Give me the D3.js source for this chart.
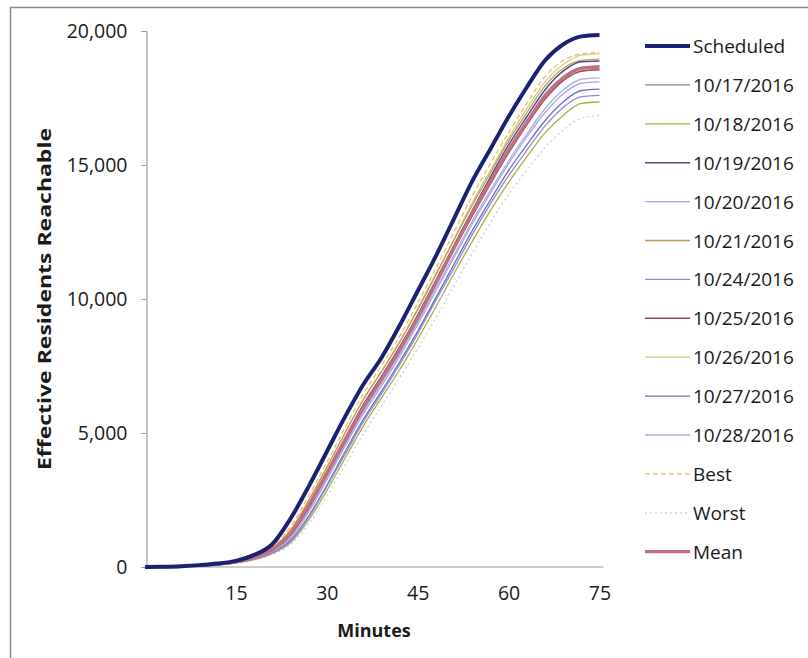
<!DOCTYPE html>
<html><head><meta charset="utf-8">
<script src="https://cdn.jsdelivr.net/npm/d3@7"></script>
<style>body{margin:0;background:#fff}svg{display:block}</style>
</head><body><svg id="c" width="808" height="658"></svg>
<script>
const minutes = [0,3,6,9,12,15,18,21,24,27,30,33,36,39,42,45,48,51,54,57,60,63,66,69,72,75];
const xTicks = [15,30,45,60,75];
const yTicks = [0,5000,10000,15000,20000];
const seriesNames = ["Scheduled","10/17/2016","10/18/2016","10/19/2016","10/20/2016","10/21/2016","10/24/2016","10/25/2016","10/26/2016","10/27/2016","10/28/2016","Best","Worst","Mean"];
const scheduled = [0,10,30,70,130,230,450,850,1800,3000,4300,5600,6800,7800,9000,10300,11600,13000,14400,15600,16800,17900,18900,19500,19800,19850];
const d1017 = [0,10,25,55,100,185,350,640,1200,2250,3500,4750,6000,7050,8150,9350,10650,11950,13250,14450,15600,16650,17650,18300,18650,18700];
const d1018 = [0,5,20,45,85,155,280,500,900,1750,2850,4050,5250,6300,7350,8500,9700,10950,12150,13300,14350,15300,16200,16850,17300,17350];
const d1019 = [0,10,25,55,105,190,360,660,1250,2300,3550,4800,6050,7100,8200,9400,10700,12000,13300,14550,15750,16800,17800,18500,18850,18880];
const d1020 = [0,10,20,50,95,170,320,580,1080,2050,3250,4500,5700,6750,7850,9050,10300,11550,12800,13950,15050,16050,16950,17650,18050,18100];
const d1021 = [0,10,25,60,110,200,390,710,1380,2480,3720,5000,6230,7280,8380,9600,10900,12200,13500,14700,15900,16950,17950,18600,18900,18950];
const d1024 = [0,10,20,45,90,160,290,530,950,1850,3000,4200,5400,6450,7550,8700,9950,11150,12400,13550,14600,15550,16450,17150,17550,17600];
const d1025 = [0,10,25,55,100,180,340,620,1180,2200,3420,4650,5880,6950,8050,9250,10550,11850,13100,14300,15450,16500,17450,18150,18500,18550];
const d1026 = [0,10,25,60,110,200,380,700,1350,2450,3700,5000,6250,7300,8400,9650,10950,12250,13600,14800,16000,17100,18100,18750,19100,19150];
const d1027 = [0,10,20,45,90,165,300,550,1000,1900,3050,4300,5500,6550,7650,8800,10050,11300,12550,13700,14800,15750,16650,17350,17780,17830];
const d1028 = [0,10,20,50,95,175,330,600,1100,2100,3300,4550,5780,6850,7950,9150,10400,11650,12900,14050,15150,16150,17100,17800,18200,18250];
const best = [0,10,30,65,120,215,410,760,1500,2650,3900,5200,6450,7500,8600,9850,11150,12500,13850,15050,16200,17300,18300,18900,19150,19200];
const worst = [0,5,15,40,80,145,260,470,830,1600,2650,3800,4950,6000,7050,8150,9300,10500,11700,12850,13900,14800,15650,16300,16750,16850];
const mean = [0,10,25,55,100,190,360,650,1250,2300,3500,4750,5950,7000,8100,9300,10600,11900,13200,14400,15550,16600,17550,18250,18600,18650];
const seriesValues = [scheduled,d1017,d1018,d1019,d1020,d1021,d1024,d1025,d1026,d1027,d1028,best,worst,mean];
const colors = ["#1c2272","#8a8a96","#a9ae3c","#4b4f8e","#aaa6e4","#c49a55","#8f88da","#9a4455","#c9d27a","#6c6cc6","#a9b0dc","#e9be6c","#c9cde0","#c46f7f"];
const widths = [4,1.3,1.3,1.5,1.3,1.3,1.3,1.5,1.3,1.3,1.3,1.3,1.3,3.2];
const dashes = [null,null,null,null,null,null,null,null,null,null,null,"5,3","2,3",null];

const svg = d3.select("#c");
const x = d3.scaleLinear().domain([0,75]).range([145,599.5]);
const y = d3.scaleLinear().domain([0,20000]).range([567,31]);
const font = "'Open Sans', sans-serif";

// outer frame
svg.append("rect").attr("x",10.5).attr("y",7.5).attr("width",830).attr("height",700)
  .attr("fill","none").attr("stroke","#8a8a8a").attr("stroke-width",1.5);

// y axis
const ya = svg.append("g").attr("transform",`translate(${x(0)+1.5},0)`)
  .call(d3.axisLeft(y).tickValues(yTicks).tickSize(5).tickPadding(14).tickFormat(d3.format(",")));
ya.select(".domain").attr("stroke","#8a8a8a");
ya.selectAll(".tick line").attr("stroke","#999");
ya.selectAll("text").attr("font-family",font).attr("font-size",19.5).attr("fill","#1a1a1a");

// x axis
const xa = svg.append("g").attr("transform",`translate(0,${y(0)})`)
  .call(d3.axisBottom(x).tickValues(xTicks).tickSize(0).tickPadding(19));
xa.select(".domain").attr("stroke","#9a9a9a").attr("d",`M${x(0)},0H${x(75)+4}`);
xa.selectAll("text").attr("font-family",font).attr("font-size",19.5).attr("fill","#1a1a1a");

// lines (draw scheduled on top)
const line = d3.line().x((d,i)=>x(minutes[i])).y(d=>y(d)).curve(d3.curveMonotoneX);
const order = [12,2,9,6,4,10,1,8,5,3,7,11,13,0];
order.forEach(k=>{
  svg.append("path").datum(seriesValues[k]).attr("d",line)
    .attr("fill","none").attr("stroke",colors[k]).attr("stroke-width",widths[k])
    .attr("stroke-dasharray",dashes[k]).attr("stroke-linejoin","round");
});

// axis titles
svg.append("text").attr("x",374).attr("y",637).attr("text-anchor","middle")
  .attr("font-family",font).attr("font-weight","bold").attr("font-size",18).attr("fill","#1a1a1a")
  .text("Minutes");
svg.append("text").attr("transform","translate(51,299) rotate(-90)").attr("text-anchor","middle")
  .attr("font-family",font).attr("font-weight","bold").attr("font-size",18).attr("fill","#1a1a1a")
  .attr("textLength",342).attr("lengthAdjust","spacingAndGlyphs")
  .text("Effective Residents Reachable");

// legend
const lg = svg.append("g");
seriesNames.forEach((n,i)=>{
  const cy = 46 + i*38.9;
  lg.append("line").attr("x1",645).attr("x2",690).attr("y1",cy).attr("y2",cy)
    .attr("stroke",colors[i]).attr("stroke-width",widths[i]).attr("stroke-dasharray",dashes[i]);
  lg.append("text").attr("x",693).attr("y",cy+7).attr("font-family",font).attr("font-size",19)
    .attr("fill","#1a1a1a").text(n);
});
</script></body></html>
